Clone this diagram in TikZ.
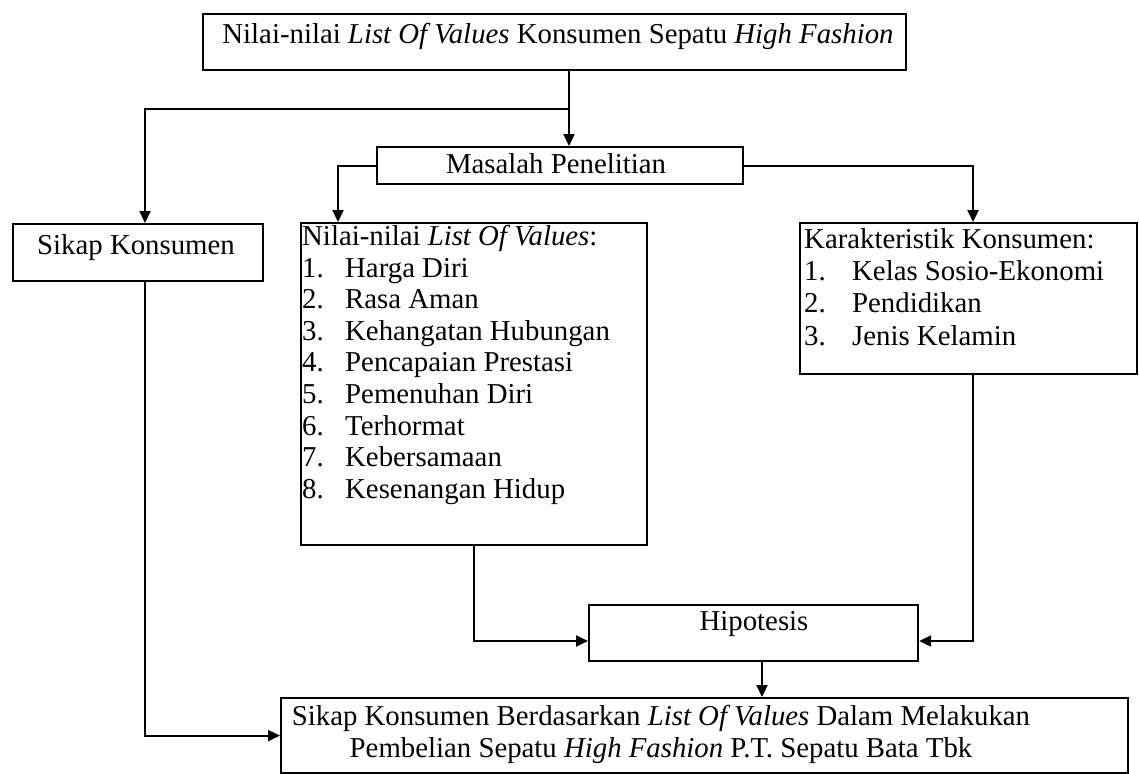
\documentclass[tikz,border=0pt]{standalone}
\usepackage{fontspec}
\setmainfont{Liberation Serif}
\usetikzlibrary{arrows.meta,calc}
\newcommand\bodyf{\fontsize{28.8}{31.6}\selectfont}
\newcommand\karf{\fontsize{28.8}{32.3}\selectfont}
\newcommand\itm[3]{\makebox[#1][l]{#2}#3}
\begin{document}
\begin{tikzpicture}[x=1pt,y=-1pt,
  box/.style={draw, line width=2.2pt, inner sep=0pt, anchor=north west},
  conn/.style={line width=2.2pt, -{Triangle[length=12pt,width=11pt]}},
  lbl/.style={inner sep=0pt, anchor=base, font=\bodyf},
  listtxt/.style={inner sep=0pt, anchor=north west, align=left}]
\useasboundingbox (0,0) rectangle (1139,773);
\fill[white] (0,0) rectangle (1139,773);
% boxes
\node[box, minimum width=703pt, minimum height=56pt] (top) at (202,13) {};
\node[box, minimum width=366pt, minimum height=37pt] (mas) at (376,146) {};
\node[box, minimum width=250pt, minimum height=57pt] (sikap) at (12,223) {};
\node[box, minimum width=346pt, minimum height=322pt] (lov) at (300,222) {};
\node[box, minimum width=337pt, minimum height=151pt] (kar) at (799,222) {};
\node[box, minimum width=329pt, minimum height=56pt] (hip) at (588,604) {};
\node[box, minimum width=847pt, minimum height=75pt] (out) at (280,697) {};
% texts
\node[lbl] (toptxt) at (558,44) {Nilai-nilai \textit{List Of Values} Konsumen Sepatu \textit{High Fashion}};
\node[lbl] (mastxt) at (556,173) {Masalah Penelitian};
\node[lbl] (siktxt) at (136,254) {Sikap Konsumen};
\node[listtxt, font=\bodyf] (lovtxt) at (302,225) {Nilai-nilai \textit{List Of Values}:\\
\itm{43pt}{1.}{Harga Diri}\\
\itm{43pt}{2.}{Rasa Aman}\\
\itm{43pt}{3.}{Kehangatan Hubungan}\\
\itm{43pt}{4.}{Pencapaian Prestasi}\\
\itm{43pt}{5.}{Pemenuhan Diri}\\
\itm{43pt}{6.}{Terhormat}\\
\itm{43pt}{7.}{Kebersamaan}\\
\itm{43pt}{8.}{Kesenangan Hidup}};
\node[listtxt, font=\karf] (kartxt) at (804,228) {Karakteristik Konsumen:\\
\itm{48pt}{1.}{Kelas Sosio-Ekonomi}\\
\itm{48pt}{2.}{Pendidikan}\\
\itm{48pt}{3.}{Jenis Kelamin}};
\node[lbl] (hiptxt) at (754,630) {Hipotesis};
\node[inner sep=0pt, anchor=north, align=center, font=\bodyf] (outtxt) at (661,705)
  {Sikap Konsumen Berdasarkan \textit{List Of Values} Dalam Melakukan\\
   Pembelian Sepatu \textit{High Fashion} P.T. Sepatu Bata Tbk};
% helper coordinates
\coordinate (j1) at (569,109);
\coordinate (s1) at (145,0);
\coordinate (l1) at (338,0);
\coordinate (k1) at (973,0);
\coordinate (h1) at (0,641);
\coordinate (o1) at (762,0);
% connectors
\draw[conn] (top.south -| j1) -- (mas.north -| j1);
\draw[conn] (j1) -| (s1 |- sikap.north);
\draw[conn] (mas.west) -| (l1 |- lov.north);
\draw[conn] (mas.east) -| (k1 |- kar.north);
\draw[conn] (s1 |- sikap.south) |- (out.west);
\draw[conn] (lov.south) |- (hip.west |- h1);
\draw[conn] (k1 |- kar.south) |- (hip.east |- h1);
\draw[conn] (o1 |- hip.south) -- (o1 |- out.north);
\end{tikzpicture}
\end{document}
